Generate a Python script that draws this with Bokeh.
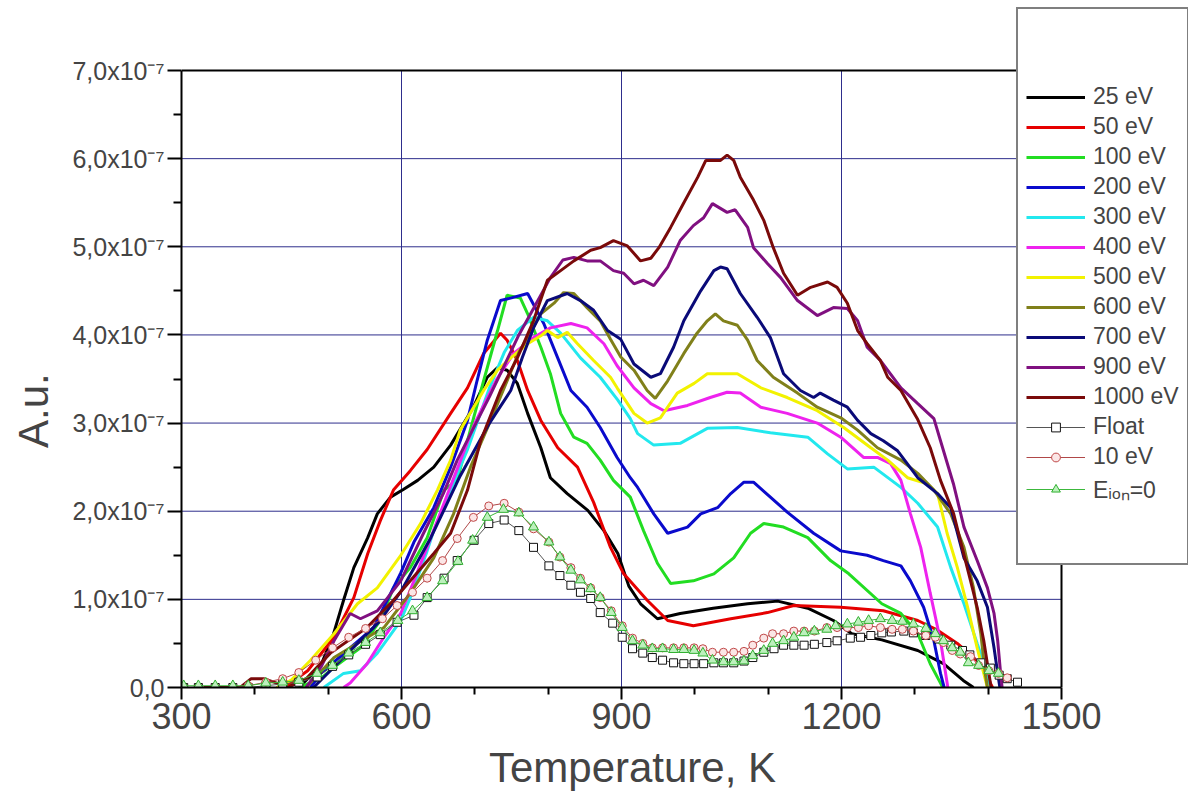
from bokeh.plotting import figure
from bokeh.models import Range1d, FixedTicker, Legend, LegendItem
from bokeh.embed import file_html
from bokeh.resources import INLINE

# ---- data (y in units of 1e-7) ----
T_25 = [430, 466, 490, 507, 521, 535, 554, 567, 585, 603, 622, 644, 667, 698, 717, 731, 744, 758, 772, 790, 803, 826, 854, 876, 895, 910, 926, 949, 980, 1025, 1072, 1113, 1154, 1189, 1214, 1255, 1304, 1339, 1366, 1380]
Y_25 = [0, 0.05, 0.25, 0.60, 0.99, 1.36, 1.70, 1.97, 2.16, 2.25, 2.35, 2.50, 2.75, 3.18, 3.52, 3.63, 3.60, 3.45, 3.11, 2.72, 2.38, 2.20, 2.01, 1.78, 1.52, 1.15, 0.95, 0.78, 0.84, 0.90, 0.95, 0.98, 0.90, 0.76, 0.61, 0.54, 0.42, 0.27, 0.08, 0]

T_50 = [440, 472, 490, 508, 535, 554, 571, 589, 612, 635, 667, 690, 712, 735, 744, 758, 772, 790, 813, 840, 862, 885, 903, 935, 963, 998, 1049, 1099, 1135, 1199, 1257, 1304, 1331, 1358, 1380, 1394, 1403, 1406]
Y_50 = [0, 0.19, 0.38, 0.57, 1.02, 1.52, 1.89, 2.24, 2.46, 2.70, 3.11, 3.40, 3.79, 4.02, 3.94, 3.71, 3.37, 3.03, 2.72, 2.50, 2.10, 1.59, 1.29, 0.99, 0.76, 0.70, 0.78, 0.85, 0.93, 0.91, 0.87, 0.76, 0.65, 0.50, 0.34, 0.23, 0.05, 0]

T_100 = [460, 490, 508, 544, 571, 589, 612, 635, 658, 676, 690, 712, 731, 744, 762, 772, 790, 803, 817, 835, 853, 871, 889, 912, 930, 949, 967, 998, 1026, 1053, 1076, 1094, 1121, 1154, 1185, 1210, 1255, 1281, 1304, 1321, 1335, 1338]
Y_100 = [0, 0.10, 0.23, 0.45, 0.76, 1.13, 1.36, 1.70, 2.24, 2.35, 2.80, 3.48, 4.05, 4.45, 4.42, 4.24, 3.86, 3.56, 3.11, 2.84, 2.77, 2.58, 2.35, 2.16, 1.78, 1.41, 1.18, 1.21, 1.29, 1.47, 1.75, 1.86, 1.82, 1.70, 1.44, 1.29, 0.95, 0.84, 0.61, 0.27, 0.05, 0]

T_200 = [476, 490, 530, 562, 599, 617, 644, 667, 690, 703, 717, 735, 750, 772, 794, 813, 831, 853, 871, 894, 912, 922, 944, 963, 990, 1008, 1031, 1049, 1067, 1080, 1103, 1126, 1162, 1199, 1235, 1257, 1281, 1294, 1312, 1326, 1335, 1340]
Y_200 = [0, 0.16, 0.45, 0.68, 1.30, 1.65, 2.04, 2.50, 3.03, 3.48, 3.94, 4.39, 4.42, 4.47, 4.13, 3.74, 3.37, 3.18, 2.95, 2.61, 2.38, 2.27, 1.97, 1.75, 1.82, 1.97, 2.04, 2.20, 2.33, 2.33, 2.16, 1.99, 1.75, 1.55, 1.50, 1.44, 1.38, 1.21, 0.91, 0.53, 0.16, 0]

T_300 = [494, 521, 544, 567, 599, 612, 635, 644, 670, 690, 720, 740, 758, 780, 799, 817, 844, 871, 895, 912, 922, 944, 980, 1017, 1058, 1103, 1154, 1181, 1208, 1244, 1281, 1304, 1331, 1349, 1367, 1385, 1399, 1403]
Y_300 = [0, 0.16, 0.19, 0.39, 0.76, 1.02, 1.55, 1.78, 2.30, 2.70, 3.40, 3.80, 4.05, 4.20, 4.16, 4.02, 3.74, 3.52, 3.26, 3.05, 2.88, 2.75, 2.77, 2.94, 2.95, 2.89, 2.84, 2.65, 2.48, 2.50, 2.27, 2.09, 1.82, 1.36, 0.95, 0.50, 0.16, 0]

T_400 = [521, 530, 553, 576, 599, 617, 640, 670, 700, 730, 753, 780, 803, 831, 853, 876, 894, 917, 940, 958, 990, 1021, 1044, 1062, 1090, 1126, 1167, 1199, 1230, 1249, 1267, 1281, 1294, 1308, 1321, 1335, 1345]
Y_400 = [0, 0.05, 0.27, 0.57, 0.84, 1.21, 1.70, 2.35, 3.00, 3.50, 3.79, 3.97, 4.08, 4.13, 4.08, 3.90, 3.65, 3.40, 3.22, 3.14, 3.20, 3.29, 3.35, 3.34, 3.18, 3.11, 3.00, 2.84, 2.61, 2.61, 2.54, 2.35, 1.97, 1.59, 1.07, 0.53, 0]

T_500 = [430, 449, 476, 508, 540, 567, 599, 626, 649, 667, 680, 712, 731, 749, 772, 790, 799, 813, 826, 840, 862, 885, 894, 917, 935, 953, 976, 999, 1017, 1058, 1090, 1126, 1167, 1203, 1240, 1263, 1290, 1317, 1331, 1344, 1358, 1372, 1385, 1394, 1399]
Y_500 = [0, 0.08, 0.31, 0.61, 0.95, 1.13, 1.50, 1.86, 2.24, 2.58, 2.92, 3.37, 3.60, 3.74, 3.90, 3.99, 4.05, 3.97, 4.03, 3.90, 3.71, 3.52, 3.40, 3.11, 3.00, 3.06, 3.34, 3.45, 3.56, 3.56, 3.40, 3.29, 3.14, 2.95, 2.72, 2.58, 2.38, 2.31, 2.20, 1.75, 1.36, 0.91, 0.45, 0.16, 0]

T_600 = [470, 508, 530, 576, 612, 644, 671, 694, 720, 760, 790, 808, 821, 835, 853, 871, 885, 899, 917, 935, 946, 963, 985, 1003, 1017, 1028, 1039, 1058, 1072, 1085, 1107, 1140, 1167, 1199, 1222, 1249, 1281, 1304, 1326, 1349, 1367, 1380, 1390, 1396, 1399]
Y_600 = [0, 0.34, 0.45, 0.68, 1.07, 1.47, 1.97, 2.50, 3.00, 3.80, 4.24, 4.36, 4.48, 4.47, 4.31, 4.16, 3.95, 3.75, 3.60, 3.37, 3.28, 3.48, 3.79, 4.02, 4.16, 4.24, 4.16, 4.11, 3.94, 3.71, 3.52, 3.34, 3.18, 3.06, 2.92, 2.72, 2.58, 2.43, 2.24, 1.97, 1.59, 1.13, 0.61, 0.16, 0]

T_700 = [480, 510, 540, 570, 600, 640, 680, 720, 749, 765, 780, 799, 826, 844, 862, 881, 899, 917, 940, 953, 971, 985, 1008, 1026, 1035, 1044, 1062, 1085, 1103, 1121, 1144, 1162, 1171, 1189, 1208, 1222, 1240, 1257, 1276, 1304, 1331, 1349, 1367, 1385, 1399, 1408, 1413, 1416]
Y_700 = [0, 0.25, 0.50, 0.75, 1.10, 1.70, 2.40, 3.00, 3.37, 3.75, 4.08, 4.39, 4.47, 4.39, 4.28, 4.05, 3.95, 3.67, 3.52, 3.56, 3.86, 4.16, 4.50, 4.73, 4.77, 4.75, 4.47, 4.20, 3.97, 3.56, 3.37, 3.29, 3.34, 3.26, 3.18, 3.03, 2.88, 2.80, 2.69, 2.38, 2.20, 2.04, 1.47, 1.21, 0.91, 0.45, 0.16, 0]

T_900 = [470, 490, 508, 530, 544, 567, 599, 630, 657, 676, 720, 760, 780, 803, 820, 835, 853, 871, 889, 903, 917, 930, 944, 963, 980, 998, 1012, 1024, 1044, 1055, 1072, 1080, 1099, 1117, 1140, 1167, 1189, 1208, 1222, 1235, 1253, 1281, 1304, 1326, 1335, 1353, 1367, 1385, 1399, 1408, 1413, 1417, 1419]
Y_900 = [0, 0.23, 0.53, 0.84, 0.78, 0.87, 1.21, 1.75, 2.20, 2.58, 3.30, 4.00, 4.30, 4.65, 4.85, 4.88, 4.84, 4.84, 4.73, 4.70, 4.58, 4.62, 4.56, 4.77, 5.07, 5.24, 5.33, 5.49, 5.39, 5.42, 5.22, 4.99, 4.81, 4.65, 4.39, 4.22, 4.31, 4.30, 4.16, 3.86, 3.71, 3.40, 3.22, 3.05, 2.80, 2.30, 1.82, 1.44, 1.13, 0.84, 0.53, 0.16, 0]

T_1000 = [330, 380, 395, 412, 430, 445, 470, 503, 553, 589, 612, 644, 667, 690, 708, 735, 758, 780, 799, 817, 835, 858, 871, 889, 908, 926, 940, 951, 967, 985, 1004, 1015, 1035, 1044, 1053, 1062, 1080, 1094, 1107, 1121, 1140, 1158, 1181, 1194, 1208, 1222, 1235, 1253, 1263, 1281, 1304, 1321, 1335, 1353, 1362, 1376, 1385, 1394, 1401, 1404]
Y_1000 = [0, 0, 0.10, 0.10, 0.05, 0, 0.10, 0.39, 0.68, 0.99, 1.21, 1.52, 1.75, 2.24, 2.80, 3.37, 3.74, 4.16, 4.62, 4.73, 4.84, 4.96, 4.99, 5.07, 5.01, 4.84, 4.87, 4.99, 5.22, 5.50, 5.79, 5.98, 5.98, 6.04, 5.98, 5.79, 5.53, 5.30, 4.99, 4.70, 4.45, 4.54, 4.60, 4.54, 4.36, 4.05, 3.90, 3.71, 3.52, 3.37, 3.04, 2.72, 2.35, 1.97, 1.67, 1.21, 0.91, 0.53, 0.16, 0]

T_float = [303, 323, 346, 370, 391, 415, 438, 460, 485, 506, 528, 551, 571, 594, 617, 635, 658, 676, 699, 719, 740, 760, 780, 801, 816, 831, 844, 858, 871, 888, 901, 915, 929, 942, 956, 971, 985, 999, 1012, 1026, 1039, 1053, 1067, 1079, 1094, 1108, 1121, 1135, 1149, 1163, 1180, 1194, 1212, 1226, 1240, 1255, 1268, 1285, 1298, 1315, 1332, 1349, 1365, 1375, 1390, 1403, 1415, 1426, 1440]
Y_float = [0, 0, 0, 0, 0, 0.02, 0.04, 0.06, 0.12, 0.24, 0.37, 0.49, 0.60, 0.74, 0.82, 1.02, 1.24, 1.44, 1.67, 1.86, 1.90, 1.78, 1.59, 1.38, 1.27, 1.16, 1.08, 1.01, 0.85, 0.73, 0.57, 0.44, 0.39, 0.34, 0.31, 0.28, 0.27, 0.27, 0.27, 0.28, 0.28, 0.28, 0.30, 0.34, 0.40, 0.44, 0.48, 0.48, 0.48, 0.49, 0.51, 0.53, 0.56, 0.57, 0.59, 0.62, 0.63, 0.64, 0.62, 0.59, 0.55, 0.48, 0.42, 0.37, 0.28, 0.22, 0.14, 0.10, 0.06]

T_10 = [303, 323, 346, 370, 391, 415, 438, 460, 483, 506, 528, 551, 574, 594, 615, 635, 656, 676, 698, 719, 740, 760, 780, 801, 816, 831, 844, 858, 871, 886, 901, 915, 929, 942, 956, 971, 985, 999, 1011, 1024, 1039, 1053, 1067, 1079, 1094, 1106, 1121, 1135, 1149, 1163, 1180, 1194, 1208, 1223, 1237, 1253, 1269, 1283, 1298, 1315, 1328, 1339, 1351, 1362, 1376, 1387, 1401, 1414, 1426]
Y_10 = [0, 0, 0, 0, 0.02, 0.06, 0.10, 0.17, 0.31, 0.45, 0.57, 0.67, 0.78, 0.93, 1.08, 1.24, 1.44, 1.69, 1.93, 2.06, 2.09, 1.99, 1.80, 1.65, 1.48, 1.36, 1.24, 1.13, 1.02, 0.87, 0.70, 0.56, 0.50, 0.45, 0.45, 0.45, 0.45, 0.45, 0.44, 0.40, 0.40, 0.40, 0.41, 0.48, 0.56, 0.61, 0.61, 0.64, 0.64, 0.64, 0.68, 0.68, 0.68, 0.68, 0.70, 0.68, 0.66, 0.66, 0.64, 0.59, 0.57, 0.51, 0.42, 0.38, 0.35, 0.25, 0.19, 0.16, 0.11]

T_e0 = [303, 323, 346, 370, 391, 415, 438, 460, 485, 506, 528, 551, 571, 595, 615, 635, 656, 677, 697, 717, 739, 760, 780, 801, 816, 831, 844, 858, 871, 886, 901, 915, 929, 942, 956, 971, 985, 999, 1011, 1024, 1039, 1053, 1067, 1079, 1094, 1106, 1121, 1135, 1149, 1163, 1180, 1192, 1208, 1223, 1237, 1253, 1269, 1283, 1298, 1315, 1328, 1339, 1351, 1362, 1373, 1387, 1401, 1414]
Y_e0 = [0.02, 0.02, 0.02, 0.02, 0.02, 0.05, 0.06, 0.08, 0.16, 0.25, 0.39, 0.51, 0.62, 0.76, 0.87, 1.02, 1.21, 1.43, 1.67, 1.93, 2.02, 1.98, 1.82, 1.65, 1.48, 1.33, 1.22, 1.12, 1.02, 0.85, 0.68, 0.53, 0.48, 0.44, 0.44, 0.43, 0.43, 0.42, 0.39, 0.31, 0.29, 0.29, 0.30, 0.36, 0.42, 0.50, 0.53, 0.57, 0.62, 0.64, 0.66, 0.70, 0.72, 0.74, 0.76, 0.78, 0.76, 0.75, 0.72, 0.67, 0.61, 0.53, 0.45, 0.40, 0.28, 0.25, 0.19, 0.16]

LINE_NAMES = ["25 eV", "50 eV", "100 eV", "200 eV", "300 eV", "400 eV", "500 eV", "600 eV", "700 eV", "900 eV", "1000 eV"]
LINE_T = [T_25, T_50, T_100, T_200, T_300, T_400, T_500, T_600, T_700, T_900, T_1000]
LINE_Y = [Y_25, Y_50, Y_100, Y_200, Y_300, Y_400, Y_500, Y_600, Y_700, Y_900, Y_1000]
LINE_COLORS = ["#000000", "#e60000", "#22dd22", "#0a0acc", "#22e8ee", "#ee22ee", "#f2f200",
               "#80801a", "#0a0a78", "#801080", "#7a0a0a"]

X_MIN, X_MAX = 300, 1500
Y_MIN, Y_MAX = 0, 7
X_TICKS = [300, 600, 900, 1200, 1500]
X_MINOR = [400, 500, 700, 800, 1000, 1100, 1300, 1400]
Y_TICKS = [0, 1, 2, 3, 4, 5, 6, 7]
Y_MINOR = [0.5, 1.5, 2.5, 3.5, 4.5, 5.5, 6.5]
X_GRID = [600, 900, 1200]
Y_GRID = [1, 2, 3, 4, 5, 6]
Y_LABELS = {0: "0,0", 1: "1,0x10⁻⁷", 2: "2,0x10⁻⁷", 3: "3,0x10⁻⁷", 4: "4,0x10⁻⁷",
            5: "5,0x10⁻⁷", 6: "6,0x10⁻⁷", 7: "7,0x10⁻⁷"}
X_TITLE = "Temperature, K"
Y_TITLE = "A.u."

FONT = "Liberation Sans"
GRID = "#2e2e8c"
NBSP = "\u00a0"

# layout: the axes box spans px 181..1061 horizontally and 70..687 vertically;
# the frame is widened to the window's right edge / near its top so the legend can overlap.
W, H = 1188, 800
BOX_L, BOX_R, BOX_T, BOX_B = 181, 1061, 70, 687
FRAME_T = 5
x_end = X_MIN + (X_MAX - X_MIN) * (W - BOX_L) / (BOX_R - BOX_L)
y_end = Y_MAX * (BOX_B - FRAME_T) / (BOX_B - BOX_T)

p = figure(width=W, height=H, x_range=Range1d(X_MIN, x_end), y_range=Range1d(Y_MIN, y_end),
           output_backend="svg", toolbar_location=None,
           min_border_left=BOX_L, min_border_right=0, min_border_top=FRAME_T,
           min_border_bottom=H - BOX_B)
p.background_fill_color = "white"
p.border_fill_color = "white"
p.outline_line_color = None
p.grid.visible = False

# axes (titles padded with no-break spaces so they sit centred on the axes box, not the wider frame)
xa = p.xaxis[0]
xa.ticker = FixedTicker(ticks=X_TICKS, minor_ticks=X_MINOR)
xa.bounds = (X_MIN, X_MAX)
xa.axis_label = X_TITLE + NBSP * 9
ya = p.yaxis[0]
ya.ticker = FixedTicker(ticks=Y_TICKS, minor_ticks=Y_MINOR)
ya.bounds = (Y_MIN, Y_MAX)
ya.major_label_overrides = Y_LABELS
ya.axis_label = Y_TITLE + NBSP * 11
for ax in (xa, ya):
    ax.axis_line_width = 2
    ax.axis_line_color = "black"
    ax.major_tick_line_width = 2
    ax.minor_tick_line_width = 2
    ax.major_tick_in = 0
    ax.minor_tick_in = 0
    ax.axis_label_text_font = FONT
    ax.axis_label_text_font_style = "normal"
    ax.axis_label_text_font_size = "42px"
    ax.major_label_text_font = FONT
    ax.major_label_standoff = 3
xa.major_tick_out = 12
xa.minor_tick_out = 7
xa.major_label_text_font_size = "36px"
xa.axis_label_standoff = 12
ya.major_tick_out = 14
ya.minor_tick_out = 8
ya.major_label_text_font_size = "25px"
ya.axis_label_standoff = 12

# grid lines (limited to the axes box)
p.segment(x0=X_GRID, y0=[Y_MIN] * len(X_GRID), x1=X_GRID, y1=[Y_MAX] * len(X_GRID),
          line_color=GRID, line_width=1)
p.segment(x0=[X_MIN] * len(Y_GRID), y0=Y_GRID, x1=[X_MAX] * len(Y_GRID), y1=Y_GRID,
          line_color=GRID, line_width=1)
# top and right edges of the axes box
p.segment(x0=[X_MIN, X_MAX], y0=[Y_MAX, Y_MIN], x1=[X_MAX, X_MAX], y1=[Y_MAX, Y_MAX],
          line_color="black", line_width=2)

items = []
for name, t, y, c in zip(LINE_NAMES, LINE_T, LINE_Y, LINE_COLORS):
    r = p.line(t, y, line_color=c, line_width=3)
    items.append(LegendItem(label=name, renderers=[r]))

fl = p.line(T_float, Y_float, line_color="#555555", line_width=1)
fs = p.scatter(T_float, Y_float, marker="square", size=8, line_color="#111111", fill_color="white", line_width=1)
items.append(LegendItem(label="Float", renderers=[fl, fs]))

cl = p.line(T_10, Y_10, line_color="#b04848", line_width=1)
cs = p.scatter(T_10, Y_10, marker="circle", size=8, line_color="#c04848", fill_color="#fbe6e6", line_width=1)
items.append(LegendItem(label="10 eV", renderers=[cl, cs]))

tl = p.line(T_e0, Y_e0, line_color="#3cb83c", line_width=1)
ts = p.scatter(T_e0, Y_e0, marker="triangle", size=10, line_color="#30b030", fill_color="#bdf0bd", line_width=1)
items.append(LegendItem(label="Eᵢₒₙ=0", renderers=[tl, ts]))

dummy = p.line([], [], line_alpha=0)
items.append(LegendItem(label=" ", renderers=[dummy]))
items.append(LegendItem(label="  ", renderers=[dummy]))

LEG_L, LEG_B = 1016, 565
legend = Legend(items=items, location=(LEG_L - BOX_L, BOX_B - LEG_B), orientation="vertical",
                border_line_color="black", border_line_width=2,
                background_fill_color="white", background_fill_alpha=1.0,
                padding=8, spacing=3, glyph_width=59, glyph_height=22, label_height=22,
                label_standoff=8, label_text_font=FONT, label_text_font_size="23px",
                title=" ", title_text_font_size="10px", title_standoff=55, margin=0)
p.add_layout(legend)

open("out.html", "w").write(file_html(p, INLINE))
